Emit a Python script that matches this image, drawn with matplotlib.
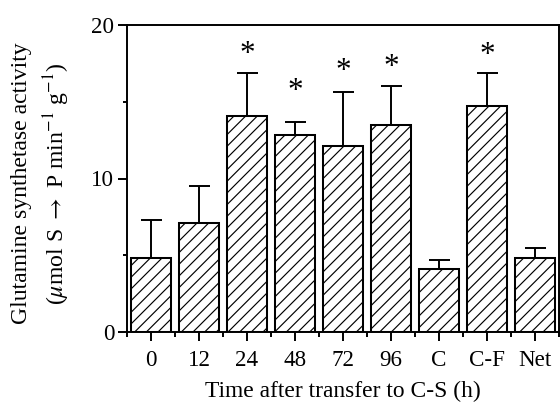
import matplotlib
matplotlib.use("Agg")
import matplotlib.pyplot as plt
import numpy as np

categories = ["0", "12", "24", "48", "72", "96", "C", "C-F", "Net"]
means = [4.8, 7.12, 14.05, 12.85, 12.1, 13.5, 4.1, 14.7, 4.8]
errors = [2.5, 2.4, 2.8, 0.85, 3.55, 2.55, 0.6, 2.15, 0.65]
significant = [False, False, True, True, True, True, False, True, False]
star_y = [None, None, 18.1, 15.7, 17.0, 17.25, None, 18.0, None]

plt.rcParams['font.family'] = ['Liberation Serif', 'DejaVu Serif']
plt.rcParams['mathtext.fontset'] = 'stix'
plt.rcParams['hatch.linewidth'] = 0.6

fig = plt.figure(figsize=(4.0, 403 / 140), dpi=140)
ax = fig.add_axes([127 / 560, 1 - 332 / 403, (559 - 127) / 560, (332 - 25) / 403])

x = np.arange(len(categories))
ax.bar(x, means, width=0.85, color='white', edgecolor='black', linewidth=1.05,
       hatch='////', zorder=2)
ax.errorbar(x, means, yerr=[np.zeros(len(errors)), errors], fmt='none',
            ecolor='black', elinewidth=1.0, capsize=5.4, capthick=1.0, zorder=1)

for xi, sig, sy in zip(x, significant, star_y):
    if sig:
        ax.text(xi, sy, "*", ha='center', va='center', fontsize=16)

ax.set_xlim(-0.5, 8.5)
ax.set_ylim(0, 20)
ax.set_yticks([0, 10, 20])
ax.set_yticks([5, 15], minor=True)
ax.set_xticks(x)
ax.set_xticklabels(categories)
ax.set_xticks(np.arange(-0.5, 9.0, 1.0), minor=True)

ax.tick_params(axis='both', which='major', direction='out', width=1.0,
               labelsize=11.8, color='black')
ax.tick_params(axis='y', which='major', length=4.6, pad=2)
ax.tick_params(axis='y', which='minor', length=2.3, width=1.0)
ax.tick_params(axis='x', which='major', length=4.4, pad=5)
ax.tick_params(axis='x', which='minor', length=2.6, width=1.0)

for s in ax.spines.values():
    s.set_linewidth(1.0)

ax.set_xlabel("Time after transfer to C-S (h)", fontsize=12.1, labelpad=5)
ax.set_ylabel("Glutamine synthetase activity\n"
              r"($\mu$mol S $\rightarrow$ P min$^{-1}$ g$^{-1}$)",
              fontsize=12.2, linespacing=1.4)
ax.yaxis.set_label_coords(-0.128, 0.484)

fig.savefig("out.png", dpi=140)
